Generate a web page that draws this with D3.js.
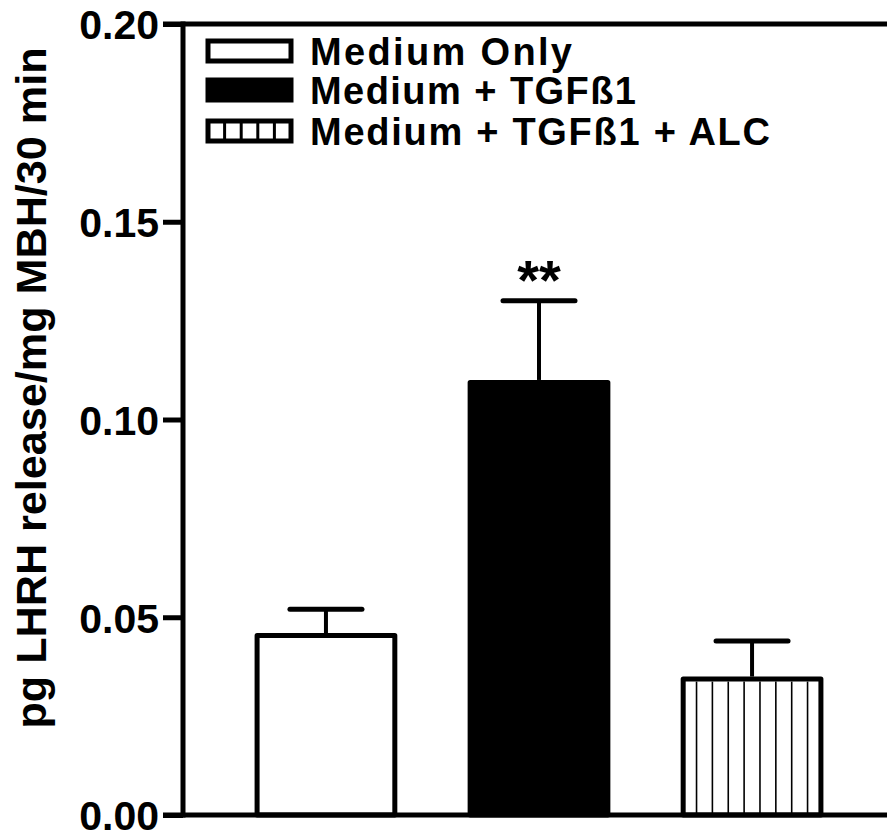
<!DOCTYPE html>
<html>
<head>
<meta charset="utf-8">
<script src="https://cdn.jsdelivr.net/npm/d3@7"></script>
<style>
  body { margin: 0; background: #fff; }
  svg { display: block; }
  text { font-family: "Liberation Sans", Arial, sans-serif; font-weight: bold; fill: #000; }
</style>
</head>
<body>
<div id="chart"></div>
<script>
// data
const groups = ['Medium Only', 'Medium + TGF\u00df1', 'Medium + TGF\u00df1 + ALC']
const means = [0.046, 0.110, 0.035]
const sems = [0.006, 0.020, 0.009]
const fills = ['white', 'black', 'stripes']
const yTicks = [0, 0.05, 0.10, 0.15, 0.20]
const stars = ['', '**', '']
const yLabel = 'pg LHRH release/mg MBH/30 min'

const width = 887
const height = 837
const plotLeft = 183
const plotTop = 24
const plotBottom = 815

const svg = d3
  .select('#chart')
  .append('svg')
  .attr('width', width)
  .attr('height', height)

const y = d3.scaleLinear().domain([0, 0.2]).range([plotBottom, plotTop])

const x = d3
  .scaleBand()
  .domain(groups)
  .range([plotLeft, 895])
  .paddingInner(0.33)
  .paddingOuter(0.336)

const sw = 5

// bars
const bars = svg.append('g').attr('class', 'bars')

groups.forEach(function (g, i) {
  const x0 = x(g)
  const bw = x.bandwidth()
  const yt = y(means[i])
  const cx = x0 + bw / 2

  // error bar (upper only)
  bars
    .append('line')
    .attr('x1', cx)
    .attr('x2', cx)
    .attr('y1', yt)
    .attr('y2', y(means[i] + sems[i]))
    .attr('stroke', '#000')
    .attr('stroke-width', 4)
  bars
    .append('line')
    .attr('x1', cx - 36)
    .attr('x2', cx + 36)
    .attr('y1', y(means[i] + sems[i]))
    .attr('y2', y(means[i] + sems[i]))
    .attr('stroke', '#000')
    .attr('stroke-width', 5)
    .attr('stroke-linecap', 'round')

  bars
    .append('rect')
    .attr('x', x0 + sw / 2)
    .attr('y', yt + sw / 2)
    .attr('width', bw - sw)
    .attr('height', plotBottom - yt - sw / 2)
    .attr('fill', fills[i] === 'black' ? '#000' : '#fff')
    .attr('stroke', '#000')
    .attr('stroke-width', sw)
    .attr('stroke-linejoin', 'round')

  if (fills[i] === 'stripes') {
    bars
      .selectAll('line.stripe')
      .data(d3.range(1, 9))
      .enter()
      .append('line')
      .attr('class', 'stripe')
      .attr('x1', d => x0 + (bw * d) / 9)
      .attr('x2', d => x0 + (bw * d) / 9)
      .attr('y1', yt + sw)
      .attr('y2', plotBottom)
      .attr('stroke', '#000')
      .attr('stroke-width', 1.6)
  }

  if (stars[i]) {
    bars
      .append('text')
      .attr('x', cx)
      .attr('y', y(means[i] + sems[i]) - 2)
      .attr('text-anchor', 'middle')
      .attr('font-size', 56)
      .text(stars[i])
  }
})

// frame lines: top and bottom
svg
  .append('line')
  .attr('x1', 163)
  .attr('x2', width)
  .attr('y1', plotTop)
  .attr('y2', plotTop)
  .attr('stroke', '#000')
  .attr('stroke-width', sw)
svg
  .append('line')
  .attr('x1', 163)
  .attr('x2', width)
  .attr('y1', plotBottom)
  .attr('y2', plotBottom)
  .attr('stroke', '#000')
  .attr('stroke-width', sw)

// y axis
const yAxis = svg
  .append('g')
  .attr('transform', 'translate(' + plotLeft + ',0)')
  .call(
    d3
      .axisLeft(y)
      .tickValues(yTicks)
      .tickFormat(d3.format('.2f'))
      .tickSize(20)
      .tickSizeOuter(0)
      .tickPadding(4)
  )

yAxis
  .select('.domain')
  .attr('stroke-width', sw)
  .attr('d', 'M0,' + (plotTop - 2.5) + 'V' + (plotBottom + 2.5))
yAxis.selectAll('.tick line').attr('stroke-width', sw)
yAxis
  .selectAll('.tick text')
  .attr('font-size', 41)
  .attr('font-family', '"Liberation Sans", Arial, sans-serif')
  .attr('font-weight', 'bold')
  .attr('dy', '0.36em')

// y axis title
svg
  .append('text')
  .attr('transform', 'translate(46,388) rotate(-90)')
  .attr('text-anchor', 'middle')
  .attr('font-size', 43)
  .attr('textLength', 681)
  .attr('lengthAdjust', 'spacingAndGlyphs')
  .text(yLabel)

// legend
const legend = svg.append('g').attr('class', 'legend')
const rowY = [51, 90, 131]
const textW = [262, 326, 460]

groups.forEach(function (g, i) {
  const cy = rowY[i]
  const boxX = 208
  const boxW = 83
  const boxH = 20
  legend
    .append('rect')
    .attr('x', boxX)
    .attr('y', cy - boxH / 2)
    .attr('width', boxW)
    .attr('height', boxH)
    .attr('fill', fills[i] === 'black' ? '#000' : '#fff')
    .attr('stroke', '#000')
    .attr('stroke-width', 5)
  if (fills[i] === 'stripes') {
    legend
      .selectAll('line.lstripe')
      .data(d3.range(1, 5))
      .enter()
      .append('line')
      .attr('class', 'lstripe')
      .attr('x1', d => boxX + (boxW * d) / 5)
      .attr('x2', d => boxX + (boxW * d) / 5)
      .attr('y1', cy - boxH / 2)
      .attr('y2', cy + boxH / 2)
      .attr('stroke', '#000')
      .attr('stroke-width', 3)
  }
  legend
    .append('text')
    .attr('x', 310)
    .attr('y', cy + 14)
    .attr('font-size', 38)
    .attr('textLength', textW[i])
    .attr('lengthAdjust', 'spacing')
    .text(g)
})
</script>
</body>
</html>
